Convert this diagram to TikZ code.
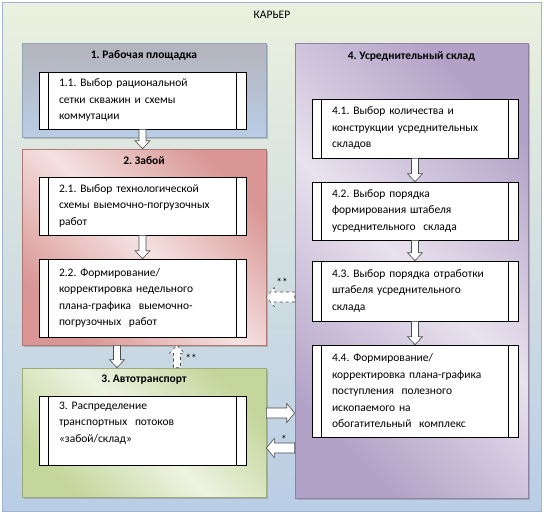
\documentclass[tikz,border=0pt]{standalone}
\usepackage{fontspec}
\setmainfont{Carlito}
\usepackage{xcolor}
\usepackage{tikz}
\usetikzlibrary{positioning, calc, shadows}

\definecolor{bgtop}{HTML}{EBF1DE}
\definecolor{bgbot}{HTML}{B9CDE5}
\definecolor{frameline}{HTML}{9DB5D2}
\definecolor{grayp}{HTML}{B4B4BC}
\definecolor{bluep}{HTML}{B9CDE5}
\definecolor{reddark}{HTML}{D99694}
\definecolor{redlight}{HTML}{F4E2E1}
\definecolor{greendark}{HTML}{C3D69B}
\definecolor{greenlight}{HTML}{EEF3E2}
\definecolor{violetdark}{HTML}{B3A2C7}
\definecolor{violetlight}{HTML}{E8E2EE}

\frenchspacing

\begin{document}
\begin{tikzpicture}[
    x=1pt, y=-1pt,
    font=\fontsize{11.5}{16.5}\selectfont,
    panel/.style={draw=#1!80!black, line width=0.6pt, minimum width=244pt,
        drop shadow={shadow xshift=1.5pt, shadow yshift=-1.5pt, fill=black!45}},
    ptitle/.style={font=\fontsize{11.5}{16.5}\selectfont\bfseries, inner sep=0pt},
    proc/.style={draw, fill=white, line width=0.6pt, minimum width=207pt,
        text width=167pt, inner xsep=20pt, align=left},
    vblock/.style={draw=black!70, fill=white, line width=0.6pt, to path={
        let \p1=(\tikztostart), \p2=(\tikztotarget), \n1={sign(\y2-\y1)} in
        (\x1-3.5pt,\y1) -- (\x1-3.5pt,{\y2-(\n1)*8pt}) -- (\x1-7.5pt,{\y2-(\n1)*8pt})
        -- (\x1,\y2) -- (\x1+7.5pt,{\y2-(\n1)*8pt}) -- (\x1+3.5pt,{\y2-(\n1)*8pt})
        -- (\x1+3.5pt,\y1) -- cycle}},
    hblock/.style={draw=black!70, fill=white, line width=0.6pt, to path={
        let \p1=(\tikztostart), \p2=(\tikztotarget), \n1={sign(\x2-\x1)} in
        (\x1,\y1-5pt) -- ({\x2-(\n1)*8pt},\y1-5pt) -- ({\x2-(\n1)*8pt},\y1-9.5pt)
        -- (\x2,\y1) -- ({\x2-(\n1)*8pt},\y1+9.5pt) -- ({\x2-(\n1)*8pt},\y1+5pt)
        -- (\x1,\y1+5pt) -- cycle}},
    star/.style={font=\fontsize{11.5}{12}\selectfont, inner sep=1pt},
]
\useasboundingbox (0,0) rectangle (544,514);

% Frame
\node[draw=frameline, line width=1.5pt, top color=bgtop, bottom color=bgbot,
    minimum width=539pt, minimum height=509pt] (frame) at (272,257) {};
\node (kar) at (272,15) {КАРЬЕР};

% Panels
\node[panel=bluep, top color=grayp, bottom color=bluep, minimum height=94pt] (p1) at (144,90) {};
\node[panel=reddark, top color=reddark, bottom color=reddark, middle color=redlight,
    shading angle=-45, minimum height=196pt] (p2) at (144,247) {};
\node[panel=greendark, top color=greendark, bottom color=greendark, middle color=greenlight,
    shading angle=-45, minimum height=129pt] (p3) at (144,432.5) {};
\node[panel=violetdark, top color=violetdark, bottom color=violetdark, middle color=violetlight,
    shading angle=-45, minimum width=233pt, minimum height=455pt] (p4) at (411.5,270.5) {};

% Panel titles
\node[ptitle, below=8pt of p1.north] (t1) {1. Рабочая площадка};
\node[ptitle, below=8pt of p2.north] (t2) {2. Забой};
\node[ptitle, below=7pt of p3.north] (t3) {3. Автотранспорт};
\node[ptitle, below=9pt of p4.north] (t4) {4. Усреднительный склад};

% Process boxes
\node[proc, minimum height=57pt] (b11) at (142.5,100.5)
    {1.1. Выбор рациональной\\ сетки скважин и схемы\\ коммутации};
\node[proc, minimum height=58pt] (b21) at (142.5,206)
    {2.1. Выбор технологической\\ схемы выемочно-погрузочных\\ работ};
\node[proc, minimum height=78pt] (b22) at (142.5,298)
    {2.2. Формирование/\\ корректировка недельного\\ плана-графика\ \ выемочно-\\ погрузочных\ \ работ};
\node[proc, minimum height=69pt] (b3) at (142.5,430.5)
    {3. Распределение\\ транспортных\ \ потоков\\ «забой/склад»\\ \mbox{}};
\node[proc, minimum width=206pt, text width=166pt, minimum height=59pt] (b41) at (415,128.5)
    {4.1. Выбор количества и\\ конструкции усреднительных\\ складов};
\node[proc, minimum width=206pt, text width=166pt, minimum height=58pt] (b42) at (415,211)
    {4.2. Выбор порядка\\ формирования штабеля\\ усреднительного\ \ склада};
\node[proc, minimum width=206pt, text width=166pt, minimum height=60pt] (b43) at (415,291)
    {4.3. Выбор порядка отработки\\ штабеля усреднительного\\ склада};
\node[proc, minimum width=206pt, text width=166pt, minimum height=92pt] (b44) at (415,391)
    {4.4. Формирование/\\ корректировка плана-графика\\ поступления\ \ полезного\\ ископаемого на\\ обогатительный\ \ комплекс};

% Side bars of the process boxes
\foreach \b in {b11, b21, b22, b3, b41, b42, b43, b44} {
    \draw[line width=0.6pt] ([xshift=10pt]\b.north west) -- ([xshift=10pt]\b.south west);
    \draw[line width=0.6pt] ([xshift=-10pt]\b.north east) -- ([xshift=-10pt]\b.south east);
}

% Block arrows
\draw[vblock] (b11.south) to (p2.north);
\draw[vblock] (b21.south) to (b22.north);
\draw[vblock] ([xshift=-27pt]p2.south) to ([xshift=-27pt]p3.north);
\draw[vblock, dashed] ([xshift=33pt]p3.north) to ([xshift=33pt]p2.south);
\draw[vblock] (b41.south) to (b42.north);
\draw[vblock] (b42.south) to (b43.north);
\draw[vblock] (b43.south) to (b44.north);
\draw[hblock] ([yshift=19.5pt]p3.east) to (p4.west);
\draw[hblock] ([yshift=-177.5pt]p4.west) to (p3.east);
\draw[hblock, dashed] ([yshift=-26.5pt]p4.west) to (p2.east);

% Marks
\node[star] (m1) at (282,282) {**};
\node[star] (m2) at (191,358) {**};
\node[star] (m3) at (284,439) {*};

\end{tikzpicture}
\end{document}
